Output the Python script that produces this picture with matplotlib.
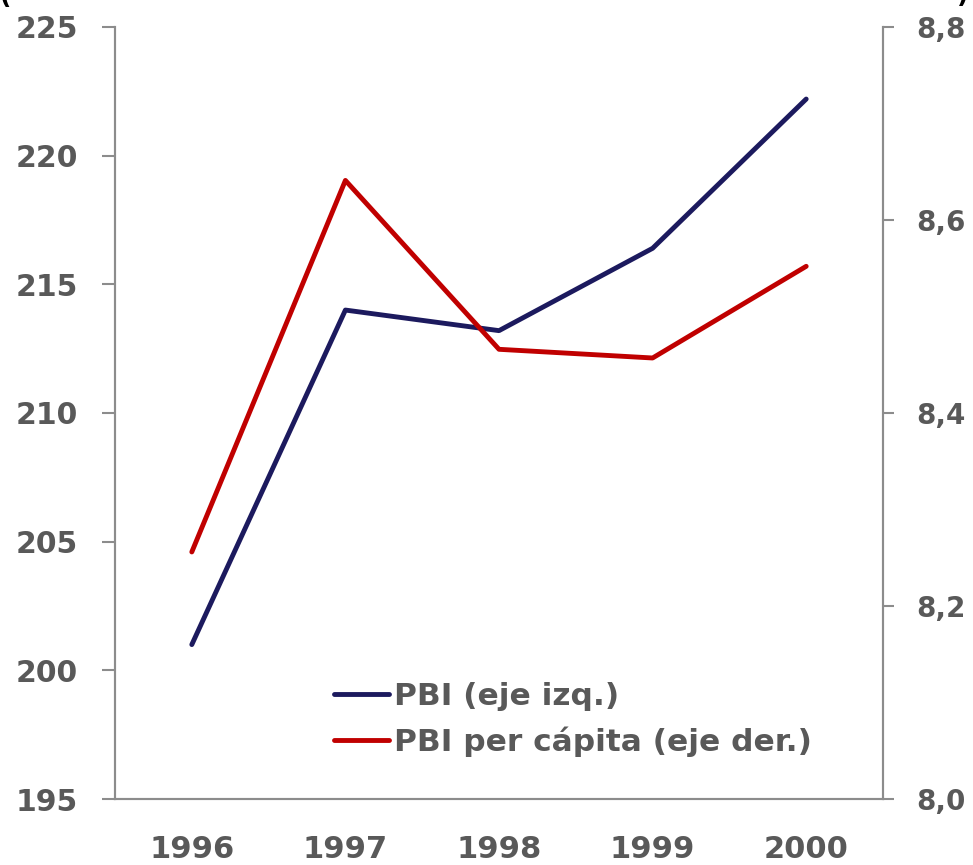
import matplotlib
matplotlib.use('Agg')
import matplotlib.pyplot as plt
from matplotlib.ticker import FuncFormatter

# data
years = ['1996', '1997', '1998', '1999', '2000']
pbi = [201.0, 214.0, 213.2, 216.4, 222.2]
pbi_pc = [8.256, 8.641, 8.466, 8.457, 8.552]
left_ticks = [195, 200, 205, 210, 215, 220, 225]
right_ticks = [8.0, 8.2, 8.4, 8.6, 8.8]
labels = ['PBI (eje izq.)', 'PBI per cápita (eje der.)']

plt.rcParams['font.family'] = ['DejaVu Sans']
plt.rcParams['font.weight'] = 'bold'

txt_color = '#595959'
spine_color = '#8c8c8c'
navy = '#1c1a5e'
red = '#c00000'

fig = plt.figure(figsize=(9.73, 8.65), dpi=100)
ax = fig.add_axes([0.1182, 0.0763, 0.7893, 0.8925])
ax2 = ax.twinx()

x = list(range(len(years)))
l1, = ax.plot(x, pbi, color=navy, lw=3.5, solid_capstyle='round')
l2, = ax2.plot(x, pbi_pc, color=red, lw=3.5, solid_capstyle='round')

ax.set_xlim(-0.5, len(years) - 0.5)
ax.set_ylim(195, 225)
ax2.set_ylim(8.0, 8.8)
ax.set_xticks(x)
ax.set_xticklabels(years)
ax.set_yticks(left_ticks)
ax2.set_yticks(right_ticks)
ax2.yaxis.set_major_formatter(FuncFormatter(lambda v, p: '{:.1f}'.format(v).replace('.', ',')))

for a in (ax, ax2):
    a.spines['top'].set_visible(False)
    for s in ('left', 'right', 'bottom'):
        a.spines[s].set_color(spine_color)
        a.spines[s].set_linewidth(1.5)

ax.tick_params(axis='x', length=0, pad=26, labelsize=22, labelcolor=txt_color)
ax.tick_params(axis='y', direction='out', length=9.5, width=1.5, color=spine_color,
               pad=17, labelsize=21.5, labelcolor=txt_color)
ax2.tick_params(axis='y', direction='out', length=8, width=1.5, color=spine_color,
                pad=16, labelsize=20, labelcolor=txt_color)
for t in ax.get_xticklabels() + ax.get_yticklabels() + ax2.get_yticklabels():
    t.set_fontweight('bold')

leg = ax.legend([l1, l2], labels, loc='center left', bbox_to_anchor=(0.285, 0.103),
                frameon=False, fontsize=22.5, handlelength=1.75, handletextpad=0.18,
                labelspacing=0.5, borderpad=0, borderaxespad=0)
for t in leg.get_texts():
    t.set_color(txt_color)
    t.set_fontweight('bold')

# cut-off parentheses of the axis titles above the plot
fig.text(0.0, 1.003, '(', fontsize=18, va='center', ha='left', color='black')
fig.text(0.984, 1.005, ')', fontsize=18, va='center', ha='left', color='black')

fig.savefig('out.png', dpi=100)
